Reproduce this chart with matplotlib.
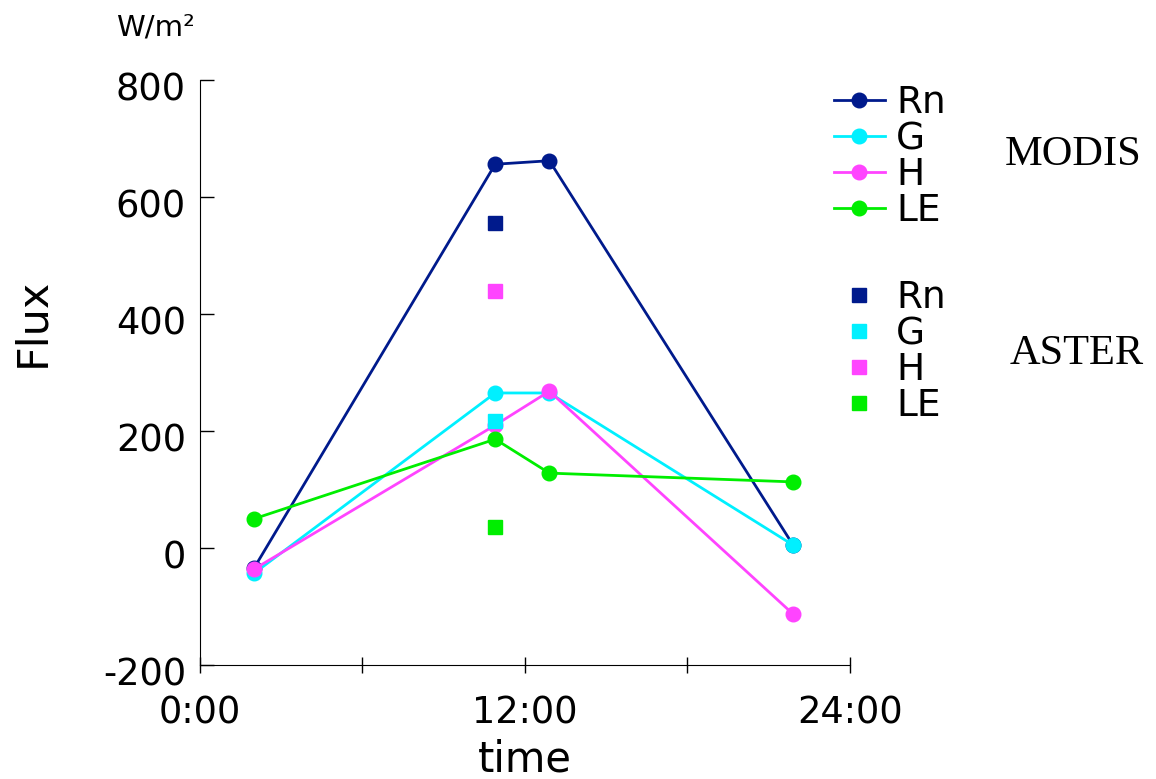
import numpy as np
import matplotlib
matplotlib.use('Agg')
import matplotlib.pyplot as plt
import matplotlib.transforms as mtransforms
from matplotlib.lines import Line2D

# データ (時刻は時間単位)
modis_time = [2.0, 10.9, 12.9, 21.9]
modis_rn = [-34, 656, 662, 5]
modis_g = [-43, 265, 265, 5]
modis_h = [-36, 210, 268, -113]
modis_le = [50, 186, 128, 113]

aster_time = [10.9]
aster_rn = [556]
aster_g = [217]
aster_h = [439]
aster_le = [36]

names = ['Rn', 'G', 'H', 'LE']
colors = ['#001a8c', '#00f0ff', '#ff44ff', '#00ee00']
xticks = [0, 12, 24]
xlabels = ['0:00', '12:00', '24:00']

plt.rcParams['font.family'] = 'DejaVu Sans'
plt.rcParams['axes.unicode_minus'] = False

fig = plt.figure(figsize=(11.56, 7.79), dpi=100)
ax = fig.add_axes([200/1156, 1-665/779, 650/1156, 585/779])

for vals, c in zip([modis_rn, modis_g, modis_h, modis_le], colors):
    ax.plot(modis_time, vals, color=c, lw=2.0, marker='o', ms=10.5,
            mec=c, mfc=c, clip_on=False)
for vals, c in zip([aster_rn, aster_g, aster_h, aster_le], colors):
    ax.plot(aster_time, vals, ls='none', marker='s', ms=10.5,
            mec=c, mfc=c, clip_on=False)

ax.set_xlim(0, 24)
ax.set_ylim(-200, 800)
ax.spines['top'].set_visible(False)
ax.spines['right'].set_visible(False)
ax.set_xticks(xticks)
ax.set_xticklabels(xlabels)
ax.set_xticks([6, 18], minor=True)
ax.set_yticks([-200, 0, 200, 400, 600, 800])
ax.tick_params(axis='y', direction='in', length=10, width=1, labelsize=26.5, pad=10)
ax.tick_params(axis='x', which='both', direction='inout', length=11, width=1,
               labelsize=26.5, pad=16)
# 縦軸の目盛ラベルを少し下げる
offset = mtransforms.ScaledTranslation(0, -6/100, fig.dpi_scale_trans)
for lbl in ax.get_yticklabels():
    lbl.set_transform(lbl.get_transform() + offset)

ax.set_ylabel('Flux', fontsize=31)
ax.yaxis.set_label_coords(-0.226, 0.585)
ax.set_xlabel('time', fontsize=30, labelpad=5)

fig.text(155/1156, 1-28/779, 'W/m²', fontsize=21, ha='center', va='center')

# 凡例
h1 = [Line2D([], [], color=c, lw=2.0, marker='o', ms=10.5, mfc=c, mec=c) for c in colors]
leg1 = fig.legend(h1, names, loc='upper left', bbox_to_anchor=(834/1156, 1-85/779),
                  frameon=False, fontsize=27, labelspacing=0.0, handlelength=1.35,
                  handletextpad=0.3, borderaxespad=0, borderpad=0)
h2 = [Line2D([], [], ls='none', marker='s', ms=10.5, mfc=c, mec=c) for c in colors]
leg2 = fig.legend(h2, names, loc='upper left', bbox_to_anchor=(834/1156, 1-280/779),
                  frameon=False, fontsize=27, labelspacing=0.0, handlelength=1.35,
                  handletextpad=0.3, borderaxespad=0, borderpad=0)

fig.text(1073/1156, 1-155/779, 'MODIS', fontsize=30.5, family='Liberation Serif',
         ha='center', va='center')
fig.text(1077/1156, 1-354/779, 'ASTER', fontsize=30.5, family='Liberation Serif',
         ha='center', va='center')

fig.savefig('out.png', dpi=100)
